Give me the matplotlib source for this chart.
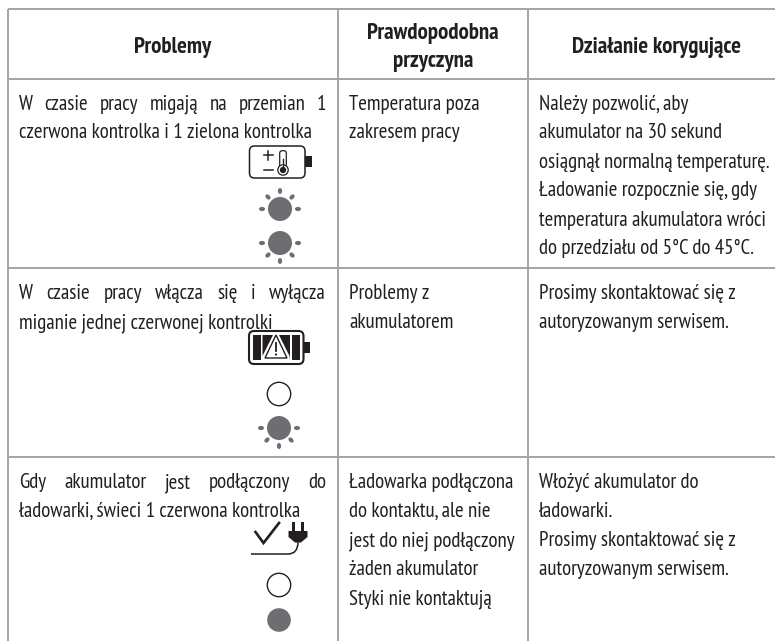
import matplotlib
matplotlib.use("Agg")
import matplotlib.pyplot as plt
from matplotlib import font_manager as fm
from matplotlib.patches import FancyBboxPatch, Circle, Rectangle, Polygon, Ellipse, PathPatch
from matplotlib.path import Path
import math

W, H = 775, 641
TXT = "#231f20"
GRID = "#a2a4a7"
ICON = "#6d6e71"
K = "#231f20"
names = {f.name for f in fm.fontManager.ttflist}
FAMILY = next((n for n in ["PT Sans Narrow", "Fira Sans Condensed", "Roboto Condensed", "Open Sans Condensed",
                           "Liberation Sans Narrow", "Open Sans"] if n in names), "DejaVu Sans")

headers = ["Problemy", "Prawdopodobna\nprzyczyna", "Działanie korygujące"]
row1_problem = ["W czasie pracy migają na przemian 1", "czerwona kontrolka i 1 zielona kontrolka"]
row1_cause = ["Temperatura poza", "zakresem pracy"]
row1_action = ["Należy pozwolić, aby", "akumulator na 30 sekund", "osiągnął normalną temperaturę.",
               "Ładowanie rozpocznie się, gdy", "temperatura akumulatora wróci", "do przedziału od 5°C do 45°C."]
row2_problem = ["W czasie pracy włącza się i wyłącza", "miganie jednej czerwonej kontrolki"]
row2_cause = ["Problemy z", "akumulatorem"]
row2_action = ["Prosimy skontaktować się z", "autoryzowanym serwisem."]
row3_problem = ["Gdy akumulator jest podłączony do", "ładowarki, świeci 1 czerwona kontrolka"]
row3_cause = ["Ładowarka podłączona", "do kontaktu, ale nie", "jest do niej podłączony",
              "żaden akumulator", "Styki nie kontaktują"]
row3_action = ["Włożyć akumulator do", "ładowarki.", "Prosimy skontaktować się z", "autoryzowanym serwisem."]

fig = plt.figure(figsize=(W/100, H/100), dpi=100, facecolor="white")
ax = fig.add_axes([0, 0, 1, 1])
ax.set_xlim(0, W); ax.set_ylim(H, 0); ax.axis("off")
renderer = fig.canvas.get_renderer()

SIZE = 15.0
def put(x, y, s, **kw):
    return ax.text(x, y, s, family=FAMILY, fontsize=kw.pop("fontsize", SIZE), color=TXT,
                   va="baseline", **kw)

def width(s, **kw):
    t = put(0, 0, s, **kw)
    w = t.get_window_extent(renderer).width
    t.remove()
    return w

def justified(x0, x1, y, s):
    words = s.split(" ")
    ws = [width(w) for w in words]
    gap = (x1 - x0 - sum(ws)) / (len(words) - 1)
    x = x0
    for w, wd in zip(words, ws):
        put(x, y, w)
        x += wd + gap

def block(x, y0, lines, pitch=29.0):
    for i, s in enumerate(lines):
        put(x, y0 + i*pitch, s)

# grid
for y in [9, 79, 268, 457]:
    ax.plot([8, W], [y, y], color=GRID, lw=1.4, solid_capstyle="butt")
for x in [8, 337.7, 528]:
    ax.plot([x, x], [8.5, H], color=GRID, lw=1.4, solid_capstyle="butt")

# header
HB = dict(weight="bold", fontsize=16.5, ha="center")
put(172.5, 53, headers[0], **HB)
a, b = headers[1].split("\n")
put(433, 39, a, **HB); put(433, 67, b, **HB)
put(656, 53, headers[2], **HB)

# rows
X1, X1R, X2, X3 = 19, 326, 349, 539
justified(X1, X1R, 109.5, row1_problem[0]); put(X1, 138.5, row1_problem[1])
block(X2, 109.5, row1_cause); block(X3, 109.5, row1_action)
justified(X1, X1R, 299, row2_problem[0]); put(X1, 328, row2_problem[1])
block(X2, 299, row2_cause); block(X3, 299, row2_action)
justified(X1, X1R, 488, row3_problem[0]); put(X1, 517, row3_problem[1])
block(X2, 488, row3_cause); block(X3, 488, row3_action)

# icons
def sun(cx, cy, angles):
    ax.add_patch(Circle((cx, cy), 12, fc=ICON, ec="none"))
    for a in angles:
        r = math.radians(a)
        d = 17 if a % 90 else 18
        ax.add_patch(Ellipse((cx + d*math.cos(r), cy + d*math.sin(r)), 6, 4.2, angle=a,
                             fc=ICON, ec="none"))

def battery(x0, y0, x1, y1, nubx, nuby0, nuby1, lw=1.1):
    ax.add_patch(FancyBboxPatch((x0+5, y0+5), x1-x0-10, y1-y0-10, boxstyle="round,pad=5,rounding_size=5",
                                fc="white", ec=K, lw=lw))
    ax.add_patch(Rectangle((x1, nuby0), nubx-x1, nuby1-nuby0, fc=K, ec="none"))

def ring(cx, cy):
    ax.add_patch(Circle((cx, cy), 11.7, fc="white", ec=K, lw=1.0))

UP = [-90, -45, -135, 0, 180]
DOWN = [90, 45, 135, 0, 180]

battery(249.5, 146, 305, 178, 312, 156, 167)
ax.plot([263.5, 272.5], [155, 155], color=K, lw=1.1)
ax.plot([268, 268], [150.5, 159.5], color=K, lw=1.1)
ax.plot([263.5, 272.5], [170, 170], color=K, lw=1.1)
ax.add_patch(FancyBboxPatch((281, 152), 4, 14, boxstyle="round,pad=1.3,rounding_size=2.5", fc="white", ec=K, lw=0.9))
ax.add_patch(Circle((283, 170), 5.2, fc="white", ec=K, lw=0.9, zorder=3))
ax.add_patch(Rectangle((281.8, 164.5), 2.4, 2, fc="white", ec="none", zorder=3.5))
ax.add_patch(Circle((283, 170), 3.2, fc=K, ec="none", zorder=4))
ax.plot([283, 283], [159, 168], color=K, lw=1.0, zorder=4)
sun(280, 209, UP)
sun(280, 243, DOWN)

battery(249, 331, 303.5, 364, 310, 342, 353, lw=1.5)
ax.add_patch(Rectangle((253, 335), 7.5, 25, fc=K, ec="none"))
ax.add_patch(Polygon([[262.5, 335], [273, 335], [262.5, 356], [262.5, 360]], closed=True, fc=K, ec="none"))
ax.add_patch(Polygon([[279, 335], [290, 335], [290, 360], [289.5, 356]], closed=True, fc=K, ec="none"))
ax.add_patch(Rectangle((292, 335), 7.5, 25, fc=K, ec="none"))
ax.add_patch(Polygon([[265, 358], [287, 358], [276, 335]], closed=True, fc="white", ec=K, lw=1.0, zorder=3))
ax.plot([276, 276], [343, 351], color=K, lw=1.3, zorder=4)
ax.add_patch(Circle((276, 354.5), 1.1, fc=K, ec="none", zorder=4))
ring(279, 394)
sun(279, 428, DOWN)

ax.plot([255.5, 263.5, 279], [532, 543, 523], color=K, lw=1.9, solid_joinstyle="miter")
ax.add_patch(Rectangle((291.5, 522), 3.2, 10, fc=K, ec="none"))
ax.add_patch(Rectangle((301, 522), 3.2, 10, fc=K, ec="none"))
ax.add_patch(Polygon([[288.5, 531], [307.5, 531], [307.5, 537], [301, 542.5], [295, 542.5], [288.5, 537]],
                     closed=True, fc=K, ec="none"))
ax.add_patch(PathPatch(Path([(298, 542), (298, 554), (288, 554), (251, 554)],
                            [Path.MOVETO, Path.CURVE3, Path.CURVE3, Path.LINETO]),
                       fc="none", ec=K, lw=1.1))
ring(279, 585)
ax.add_patch(Circle((279, 620), 11.8, fc=ICON, ec="none"))

fig.savefig("out.png", dpi=100, facecolor="white")
